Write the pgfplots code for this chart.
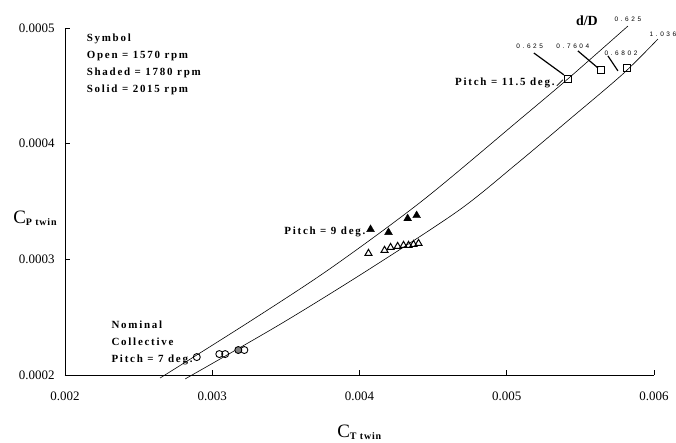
\documentclass[border=0pt]{standalone}
\usepackage{fontspec}
\setmainfont{Liberation Serif}
\newfontfamily\lbl[LetterSpace=16]{Liberation Serif}
\newfontfamily\sub[LetterSpace=8]{Liberation Serif}
\newfontfamily\dd[LetterSpace=40]{Liberation Sans}
\usepackage{pgfplots}
\pgfplotsset{compat=1.18}

\begin{document}
\begin{tikzpicture}
\useasboundingbox (-65bp,-68bp) rectangle (611bp,375bp);
\begin{axis}[
  at={(0,0)}, anchor=south west,
  scale only axis, width=589bp, height=347bp,
  xmin=0.002, xmax=0.006, ymin=0.0002, ymax=0.0005,
  clip=false,
  axis x line*=bottom, axis y line*=left,
  axis line style={line width=0.9pt},
  xtick={0.002,0.003,0.004,0.005,0.006},
  ytick={0.0002,0.0003,0.0004,0.0005},
  scaled ticks=false,
  xticklabels={0.002,0.003,0.004,0.005,0.006},
  yticklabels={0.0002,0.0003,0.0004,0.0005},
  tick align=inside,
  major tick length=5bp,
  tick style={black, line width=0.8pt},
  ticklabel style={font=\fontsize{13}{13}\selectfont},
  xticklabel style={yshift=-13bp},
  yticklabel style={xshift=-7bp},
  xlabel={\fontsize{19}{19}\selectfont C\textsubscript{\sub\bfseries\fontsize{10}{10}\selectfont T twin}},
  xlabel style={at={(axis description cs:0.5,-0.165)}, anchor=center},
]

% d/D = 0.625
\addplot[black, line width=0.6pt, smooth] coordinates {
  (0.002646,0.0001974) (0.003259,0.0002466) (0.003803,0.0002922)
  (0.004429,0.0003509) (0.005095,0.0004216) (0.005415,0.000456)
  (0.005823,0.0005017)
};
% d/D = 1.036
\addplot[black, line width=0.6pt, smooth] coordinates {
  (0.002816,0.0001966) (0.003463,0.000244) (0.004054,0.0002905)
  (0.004673,0.0003422) (0.005061,0.0003819) (0.005415,0.0004198)
  (0.005789,0.0004603) (0.006027,0.0004905)
};

% pitch 7 deg, circles
\addplot[only marks, mark=o, mark size=3.5bp, black, line width=0.9pt] coordinates {
  (0.002895,0.0002155) (0.003048,0.0002181) (0.003088,0.0002181)
  (0.003218,0.0002216)
};
\addplot[only marks, mark=*, mark size=3.5bp, draw=black, fill=gray, line width=0.9pt] coordinates {
  (0.003177,0.0002216)
};

% pitch 9 deg, triangles
\addplot[only marks, mark=triangle*, mark size=4.5bp, black] coordinates {
  (0.004075,0.0003259) (0.004197,0.0003233) (0.004327,0.0003353)
  (0.004388,0.0003379)
};
\addplot[only marks, mark=triangle, mark size=4bp, black, line width=1pt] coordinates {
  (0.004061,0.0003052) (0.004170,0.0003078) (0.004211,0.0003103)
  (0.004259,0.0003112) (0.004299,0.0003121) (0.004333,0.0003121)
  (0.004367,0.0003129) (0.004401,0.0003138)
};

% pitch 11.5 deg, squares
\addplot[only marks, mark=square, mark size=3.5bp, black, line width=0.9pt] coordinates {
  (0.005415,0.000456) (0.005639,0.0004638) (0.005816,0.0004655)
};

% y label, set horizontally
\node[anchor=west, inner sep=0pt] at (rel axis cs:-0.088,0.452)
  {\fontsize{19}{19}\selectfont C\textsubscript{\sub\bfseries\fontsize{10}{10}\selectfont P twin}};

% annotations
\node[anchor=north west, align=left, font=\lbl\bfseries\fontsize{11}{17.3}\selectfont]
  at (rel axis cs:0.031,0.994) {Symbol\\Open = 1570 rpm\\Shaded = 1780 rpm\\Solid = 2015 rpm};
\node[anchor=north west, align=left, font=\lbl\bfseries\fontsize{11}{17}\selectfont]
  at (rel axis cs:0.0730,0.166) {Nominal\\Collective\\Pitch = 7 deg.};
\node[anchor=east, inner sep=1bp, font=\lbl\bfseries\fontsize{11}{11}\selectfont]
  at (axis cs:0.004048,0.0003233) {Pitch = 9 deg.};
\node[anchor=east, inner sep=1bp, font=\lbl\bfseries\fontsize{11}{11}\selectfont]
  at (axis cs:0.005333,0.0004526) {Pitch = 11.5 deg.};
\draw[black, line width=0.6pt] (axis cs:0.005340,0.0004500) -- (axis cs:0.005381,0.0004552);

\node[font=\bfseries\fontsize{14}{14}\selectfont] at (axis cs:0.005544,0.000506) {d/D};
\node[font=\dd\fontsize{6.5}{6.5}\selectfont] at (axis cs:0.005823,0.0005078) {0.625};
\node[font=\dd\fontsize{6.5}{6.5}\selectfont] at (axis cs:0.006061,0.0004948) {1.036};
\node[font=\dd\fontsize{6.5}{6.5}\selectfont] at (axis cs:0.005156,0.0004845) {0.625};
\node[font=\dd\fontsize{6.5}{6.5}\selectfont] at (axis cs:0.005449,0.0004845) {0.7604};
\node[font=\dd\fontsize{6.5}{6.5}\selectfont] at (axis cs:0.005776,0.0004784) {0.6802};
\draw[black, line width=1.2pt] (axis cs:0.005184,0.0004784) -- (axis cs:0.005388,0.0004595);
\draw[black, line width=1.2pt] (axis cs:0.005483,0.0004802) -- (axis cs:0.005619,0.0004655);
\draw[black, line width=1.2pt] (axis cs:0.005687,0.0004759) -- (axis cs:0.005755,0.0004629);

\end{axis}
\end{tikzpicture}
\end{document}
